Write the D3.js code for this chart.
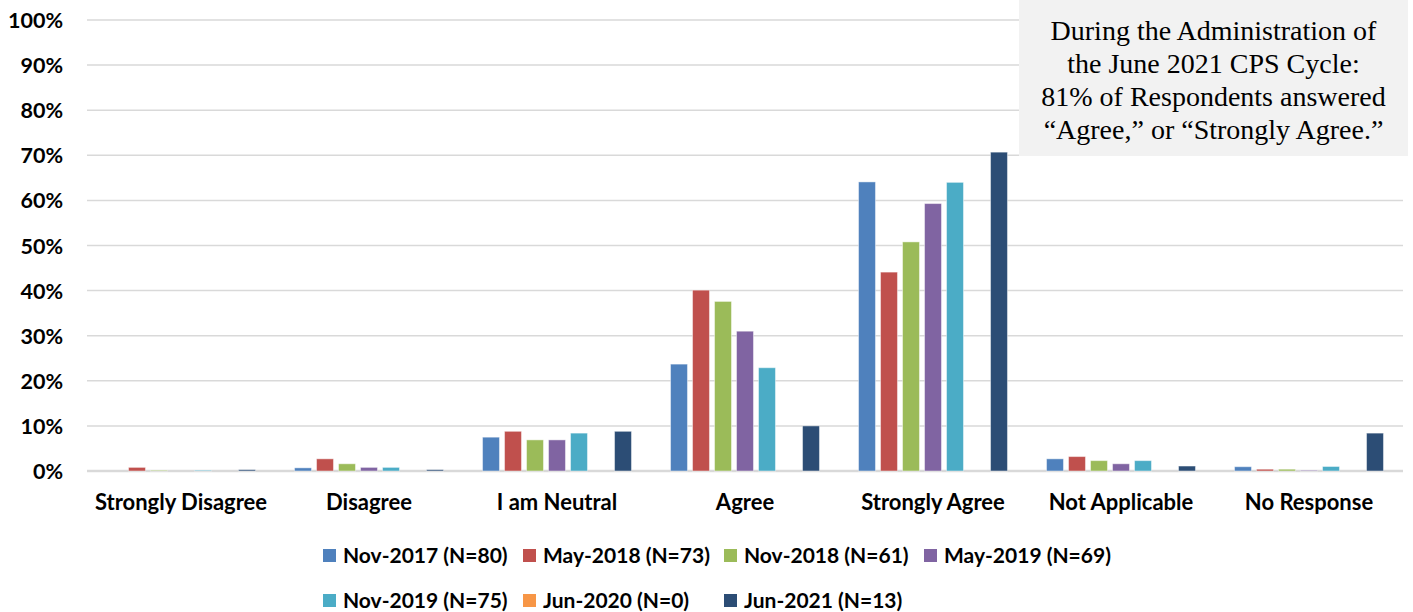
<!DOCTYPE html>
<html>
<head>
<meta charset="utf-8">
<script src="https://cdn.jsdelivr.net/npm/d3@7"></script>
<style>
  body { margin: 0; background: #fff; }
  svg { display: block; }
  .tick text { font-family: Lato, 'Open Sans', sans-serif; font-weight: 700; fill: #000; }
</style>
</head>
<body>
<svg id="chart" width="1413" height="612"></svg>
<script>
const categories = ['Strongly Disagree', 'Disagree', 'I am Neutral', 'Agree', 'Strongly Agree', 'Not Applicable', 'No Response']
const seriesNames = ['Nov-2017 (N=80)', 'May-2018 (N=73)', 'Nov-2018 (N=61)', 'May-2019 (N=69)', 'Nov-2019 (N=75)', 'Jun-2020 (N=0)', 'Jun-2021 (N=13)']
const seriesColors = ['#4f81bd', '#c0504d', '#9bbb59', '#8064a2', '#4bacc6', '#f79646', '#2c4d75']

// percent per category, one array per survey cycle
const nov2017 = [0, 0.7, 7.5, 23.7, 64.1, 2.7, 0.95]
const may2018 = [0.8, 2.7, 8.8, 40.1, 44.1, 3.2, 0.4]
const nov2018 = [0.15, 1.6, 6.9, 37.6, 50.8, 2.3, 0.4]
const may2019 = [0, 0.8, 6.9, 31.0, 59.3, 1.6, 0.15]
const nov2019 = [0.15, 0.8, 8.4, 22.9, 64.0, 2.3, 1.0]
const jun2020 = [0, 0, 0, 0, 0, 0, 0]
const jun2021 = [0.3, 0.3, 8.8, 10.0, 70.7, 1.1, 8.4]
const seriesValues = [nov2017, may2018, nov2018, may2019, nov2019, jun2020, jun2021]

const yTicks = [0, 10, 20, 30, 40, 50, 60, 70, 80, 90, 100]
const noteLines = ['During the Administration of', 'the June 2021 CPS Cycle:', '81% of Respondents answered', '\u201cAgree,\u201d or \u201cStrongly Agree.\u201d']

const svg = d3.select('#chart')
const plotLeft = 87, plotRight = 1403, plotTop = 20, plotBottom = 471

const x0 = d3.scaleBand().domain(categories).range([plotLeft, plotRight])
const bw = x0.bandwidth()
const x1 = d3.scaleBand()
             .domain(seriesNames)
             .range([bw / 2 - 77, bw / 2 + 77])
             .paddingInner(0.23)
             .paddingOuter(0.115)
const y = d3.scaleLinear().domain([0, 100]).range([plotBottom, plotTop])

// gridlines
svg.append('g')
  .selectAll('line')
  .data(yTicks)
  .join('line')
    .attr('x1', plotLeft)
    .attr('x2', plotRight)
    .attr('y1', d => y(d))
    .attr('y2', d => y(d))
    .attr('stroke', '#d9d9d9')
    .attr('stroke-width', d => d === 0 ? 2.5 : 1.5)

// y axis labels
const yAxis = d3.axisLeft(y).tickValues(yTicks).tickFormat(d => d + '%').tickSize(0).tickPadding(0)
svg.append('g')
  .attr('transform', `translate(63, 0)`)
  .call(yAxis)
  .call(g => g.select('.domain').remove())
  .selectAll('text')
    .style('font-size', '21.5px')
    .attr('dy', '0.35em')

// bars
const rows = []
seriesNames.forEach((s, si) => {
  categories.forEach((c, ci) => {
    rows.push({series: s, cat: c, value: seriesValues[si][ci], color: seriesColors[si]})
  })
})
svg.append('g')
  .selectAll('rect')
  .data(rows.filter(d => d.value > 0))
  .join('rect')
    .attr('x', d => x0(d.cat) + x1(d.series))
    .attr('width', x1.bandwidth())
    .attr('y', d => y(d.value))
    .attr('height', d => plotBottom - y(d.value))
    .attr('fill', d => d.color)
    .attr('stroke', '#fff')
    .attr('stroke-opacity', 0.45)
    .attr('stroke-width', 1)

// x axis labels
const xAxis = d3.axisBottom(x0).tickSize(0).tickPadding(0)
svg.append('g')
  .attr('transform', `translate(0, 494)`)
  .call(xAxis)
  .call(g => g.select('.domain').remove())
  .selectAll('text')
    .style('font-size', '22px')
    .attr('dy', '0.71em')

// legend
const legendCols = [323, 523, 724, 924]
const legend = svg.append('g')
  .selectAll('g')
  .data(seriesNames)
  .join('g')
    .attr('transform', (d, i) => `translate(${legendCols[i % 4]}, ${i < 4 ? 549 : 594})`)
legend.append('rect')
  .attr('width', 13)
  .attr('height', 13)
  .attr('fill', (d, i) => seriesColors[i])
legend.append('text')
  .attr('x', 20)
  .attr('y', 13.5)
  .style('font-family', "Lato, 'Open Sans', sans-serif")
  .style('font-weight', 700)
  .style('font-size', '21px')
  .text(d => d)

// note box
svg.append('rect')
  .attr('x', 1019)
  .attr('y', 0)
  .attr('width', 389)
  .attr('height', 156)
  .attr('fill', '#f2f2f2')
svg.append('g')
  .selectAll('text')
  .data(noteLines)
  .join('text')
    .attr('x', 1213.5)
    .attr('y', (d, i) => 40 + i * 33)
    .attr('text-anchor', 'middle')
    .style('font-family', "'Liberation Serif', 'Times New Roman', serif")
    .style('font-size', '28px')
    .text(d => d)
</script>
</body>
</html>
